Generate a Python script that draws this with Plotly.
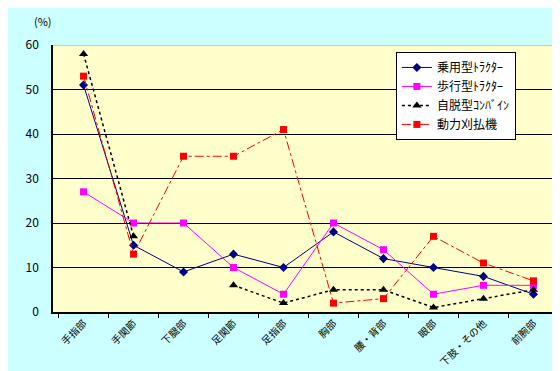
import plotly.graph_objects as go

categories = ["手指部", "手関節", "下腿部", "足関節", "足指部", "胸部", "腰・背部", "眼部", "下肢・その他", "前腕部"]
series_names = ["乗用型ﾄﾗｸﾀｰ", "歩行型ﾄﾗｸﾀｰ", "自脱型ｺﾝﾊﾞｲﾝ", "動力刈払機"]
riding_tractor = [51, 15, 9, 13, 10, 18, 12, 10, 8, 4]
walking_tractor = [27, 20, 20, 10, 4, 20, 14, 4, 6, 6]
combine = [58, 17, None, 6, 2, 5, 5, 1, 3, 5]
brush_cutter = [53, 13, 35, 35, 41, 2, 3, 17, 11, 7]
y_ticks = [0, 10, 20, 30, 40, 50, 60]

FONT = "Noto Sans CJK JP"

fig = go.Figure()
fig.add_trace(go.Scatter(x=categories, y=riding_tractor, name=series_names[0], mode="lines+markers",
                         line=dict(color="#000080", width=1),
                         marker=dict(symbol="diamond", size=7, color="#000080")))
fig.add_trace(go.Scatter(x=categories, y=walking_tractor, name=series_names[1], mode="lines+markers",
                         line=dict(color="#FF00FF", width=1),
                         marker=dict(symbol="square", size=7, color="#FF00FF")))
fig.add_trace(go.Scatter(x=categories, y=combine, name=series_names[2], mode="lines+markers",
                         connectgaps=False,
                         line=dict(color="#000000", width=1.5, dash="dot"),
                         marker=dict(symbol="triangle-up", size=8, color="#000000")))
fig.add_trace(go.Scatter(x=categories, y=brush_cutter, name=series_names[3], mode="lines+markers",
                         line=dict(color="#FF0000", width=1, dash="dashdot"),
                         marker=dict(symbol="square", size=7, color="#FF0000")))

fig.update_layout(
    width=560, height=371,
    margin=dict(l=45, r=4, t=37, b=67),
    paper_bgcolor="#CCFFFF",
    plot_bgcolor="#FFFFCC",
    font=dict(family=FONT, size=10, color="#000000"),
    showlegend=True,
    legend=dict(x=0.671, y=0.974, xanchor="left", yanchor="top",
                bgcolor="#FFFFFF", bordercolor="#000000", borderwidth=1,
                font=dict(family=FONT, size=12, color="#000000"),
                tracegroupgap=0),
    xaxis=dict(type="category", tickson="boundaries", ticks="outside", ticklen=4,
               tickcolor="#000000", showline=True, linecolor="#000000", linewidth=1.5,
               showgrid=False, tickangle=-45, tickfont=dict(family=FONT, size=10)),
    yaxis=dict(range=[0, 60], tickvals=y_ticks, ticks="", ticklabelstandoff=10,
               showline=True, linecolor="#000000", linewidth=1.5,
               showgrid=True, gridcolor="#000000", gridwidth=1, zeroline=False,
               tickfont=dict(family=FONT, size=12)),
    annotations=[dict(text="(%)", xref="paper", yref="paper", x=-0.02, y=1.09,
                      xanchor="center", yanchor="middle", showarrow=False,
                      font=dict(family=FONT, size=11))],
    shapes=[dict(type="line", xref="paper", yref="y", x0=0, x1=1, y0=60, y1=60,
                 line=dict(color="#999999", width=1))],
)

fig.write_html("out.html")
